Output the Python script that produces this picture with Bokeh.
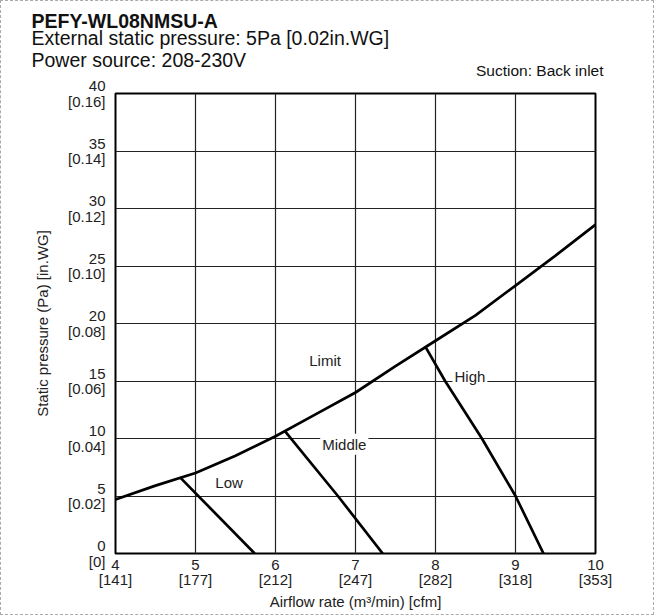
from bokeh.plotting import figure
from bokeh.models import Range1d, Title, FixedTicker, ColumnDataSource
from bokeh.core.properties import value
from bokeh.embed import file_html
from bokeh.resources import INLINE

# ---- data ----
title_main = "PEFY-WL08NMSU-A"
subtitle1 = "External static pressure: 5Pa [0.02in.WG]"
subtitle2 = "Power source: 208-230V"
note = "Suction: Back inlet"

x_ticks = [4, 5, 6, 7, 8, 9, 10]
x_tick_cfm = ["141", "177", "212", "247", "282", "318", "353"]
y_ticks = [0, 5, 10, 15, 20, 25, 30, 35, 40]
y_tick_inwg = ["0", "0.02", "0.04", "0.06", "0.08", "0.10", "0.12", "0.14", "0.16"]

limit_x = [4, 4.5, 5, 5.5, 6, 6.5, 7, 7.5, 8, 8.5, 9, 9.5, 10]
limit_y = [4.7, 5.9, 7.0, 8.5, 10.2, 12.1, 14.0, 16.3, 18.5, 20.7, 23.3, 25.9, 28.6]
low_x = [4.81, 5.74]
low_y = [6.6, 0]
mid_x = [6.11, 6.78, 7.34]
mid_y = [10.7, 5, 0]
high_x = [7.88, 8.12, 8.58, 9.0, 9.35]
high_y = [17.9, 15, 10, 5, 0]

curve_names = ["Limit", "High", "Middle", "Low"]
curve_label_x = [6.62, 8.43, 6.86, 5.42]
curve_label_y = [16.8, 15.4, 9.5, 6.2]

FONT = "Liberation Sans"

p = figure(width=654, height=615, output_backend="svg", toolbar_location=None,
           x_range=Range1d(4, 10), y_range=Range1d(0, 40),
           min_border_left=114, min_border_right=60, min_border_top=92, min_border_bottom=63)
p.background_fill_color = "white"
p.border_fill_color = "white"
p.outline_line_color = "black"
p.outline_line_width = 2

# grid
for g in (p.xgrid, p.ygrid):
    g.grid_line_color = "#222222"
    g.grid_line_width = 1.2
p.xgrid.ticker = FixedTicker(ticks=x_ticks)
p.ygrid.ticker = FixedTicker(ticks=y_ticks)

# axes
p.xaxis.ticker = FixedTicker(ticks=x_ticks)
p.yaxis.ticker = FixedTicker(ticks=y_ticks)
p.xaxis.major_label_overrides = {t: f"{t}\n[{c}]" for t, c in zip(x_ticks, x_tick_cfm)}
p.yaxis.major_label_overrides = {t: f"{t}\n[{c}]" for t, c in zip(y_ticks, y_tick_inwg)}
p.xaxis.axis_label = "Airflow rate (m³/min) [cfm]"
p.yaxis.axis_label = "Static pressure (Pa) [in.WG]"
for ax in (p.xaxis, p.yaxis):
    ax.axis_line_color = None
    ax.major_tick_line_color = None
    ax.minor_tick_line_color = None
    ax.major_tick_out = 0
    ax.major_tick_in = 0
    ax.major_label_text_font = FONT
    ax.major_label_text_font_size = "15px"
    ax.major_label_text_color = "#222222"
    ax.major_label_text_line_height = 0.9
    ax.axis_label_text_font = FONT
    ax.axis_label_text_font_size = "15px"
    ax.axis_label_text_font_style = "normal"
    ax.axis_label_text_color = "#222222"
p.xaxis.major_label_standoff = 2
p.xaxis.axis_label_standoff = 2
p.yaxis.major_label_standoff = 10
p.yaxis.axis_label_standoff = 14
p.yaxis.major_label_text_align = "right"

# curves
lw = 2.7
p.line(limit_x, limit_y, line_color="black", line_width=lw)
p.line(low_x, low_y, line_color="black", line_width=lw)
p.line(mid_x, mid_y, line_color="black", line_width=lw)
p.line(high_x, high_y, line_color="black", line_width=lw)

src = ColumnDataSource(dict(x=curve_label_x, y=curve_label_y, t=curve_names))
p.text(x="x", y="y", text="t", source=src, text_font=value(FONT), text_font_size="15px",
       text_color="#222222", text_align="center", text_baseline="middle",
       background_fill_color="white", padding=2)

# title rows (added nearest-to-frame first)
def ttl(text, size, style="normal", align="left", offset=-84, standoff=0):
    p.add_layout(Title(text=text, text_font=FONT, text_font_size=size, text_font_style=style,
                       text_color="#111111", align=align, offset=offset, standoff=standoff), "above")

ttl(note, "15.5px", align="right", offset=-8, standoff=30)
ttl(subtitle2, "19.5px", standoff=-53)
ttl(subtitle1, "19.5px", standoff=-8)
ttl(title_main, "19.5px", style="bold", standoff=-7)

p.styles = {"border": "1px dashed #aaaaaa"}

open("out.html", "w").write(file_html(p, INLINE))
